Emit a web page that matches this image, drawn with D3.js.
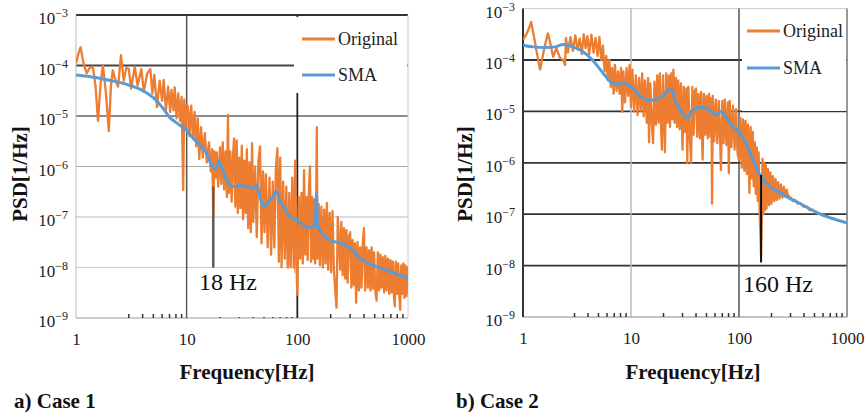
<!DOCTYPE html>
<html><head><meta charset="utf-8">
<script src="https://cdn.jsdelivr.net/npm/d3@7"></script>
<style>body{margin:0;background:#fff}svg{display:block}</style>
</head><body>
<svg id="c" width="865" height="412"></svg>
<script>
// ---------------- DATA ----------------
const xTickValues = [1, 10, 100, 1000];
const yTickExponents = [-3, -4, -5, -6, -7, -8, -9];
const minorTickValues = [3,4,5,6,7,8,9,20,30,40,50,60,70,80,90,200,300,400,500,600,700,800,900];
const legendLabels = ["Original", "SMA"];
const panelCaptions = ["a) Case 1", "b) Case 2"];
const xAxisTitle = "Frequency[Hz]";
const yAxisTitle = "PSD[1/Hz]";
const markerFreqs = [17.4, 160];
const markerLabels = ["18 Hz", "160 Hz"];
const markerRanges = [[4e-7, 1e-8], [5.8e-7, 1.15e-8]];

const case1Original = [
[1,1.1e-4],[1.05,1.7e-4],[1.1,2.3e-4],[1.17,1.1e-4],[1.25,7e-5],[1.33,9e-5],[1.42,9.5e-5],[1.5,4e-5],[1.58,8e-6],[1.67,4.5e-5],
[1.75,1e-4],[1.86,3e-5],[1.98,5e-6],[2.07,4e-5],[2.15,8e-5],[2.28,5e-5],[2.4,3.8e-5],[2.55,1.6e-4],[2.7,5e-5],[2.85,9e-5],
[3.0,8.5e-5],[3.15,3.5e-5],[3.4,9.5e-5],[3.6,4e-5],[3.9,8.5e-5],[4.1,3e-5],[4.4,7e-5],[4.7,8.5e-5],[4.9,2.8e-5],[5.1,6.5e-5],
[5.4,1.5e-5],[5.7,5e-5],[6.0,2e-5],[6.2,5.2e-5],[6.5,1.3e-5],[6.8,3.8e-5],[7.1,1.2e-5],[7.3,3.3e-5],[7.6,1.3e-5],[7.8,3.7e-5],
[8.1,9e-6],[8.4,2.8e-5],[8.7,8e-6],[9.0,2.4e-5],[9.3,3.4e-7],[9.5,2.1e-5],[9.8,6e-6],[10,1.7e-5],
[10.3,1.5e-5],[10.6,4e-6],[11,1.6e-5],[11.4,3.5e-6],[11.8,1.2e-5],[12.2,2.5e-6],[12.6,9e-6],[13.0,1.4e-6],[13.5,6e-6],[14.0,1.5e-6],
[14.6,4.6e-6],[15.2,1.2e-6],[15.9,3e-6],[16.5,8e-7],[17.0,2.2e-6],[17.4,1e-7],[17.8,2e-6],[18.3,6e-7],[18.7,1.9e-6],[19.3,4e-7],
[20,2.4e-6],[20.6,4.5e-7],[21.2,3e-6],[21.8,3.5e-7],[22.5,2e-6],[23.1,2.5e-7],[23.6,1.05e-5],[24.1,3e-7],
[24.8,2e-6],[25.5,2e-7],[26.3,1.8e-6],[26.8,3.6e-6],[27.5,1.6e-7],[28.3,3.3e-6],[29,1.2e-7],[29.8,1.5e-6],[30.6,1.5e-7],[31.5,2.6e-6],
[32.3,9e-8],[33.2,1.3e-6],[34.1,1.2e-7],[35,2.2e-6],[36,6e-8],[37,1.2e-6],[38,5e-8],[39,2.9e-6],[40,8e-8],[41.5,1e-6],
[43,4e-8],[44.5,1.3e-6],[46,2.5e-6],[47.5,3e-8],[49,8e-7],[50.5,5e-8],[52,7e-7],[54,2.5e-8],[56,6e-7],[58,1.8e-8],
[60,5e-7],[62,2.5e-8],[64,9e-7],[66,2.3e-6],[68,1.3e-8],[70,1.5e-6],[72,1e-8],[74.5,5e-7],[77,1.5e-8],[79.5,4e-7],
[82,7e-9],[84.5,3e-7],[87,1e-8],[90,6e-7],[93,8e-9],[95.5,1.3e-6],[98,1.2e-8],[100,2.9e-9],
[103,2.5e-7],[106,1.5e-8],[109,3e-7],[112,1.2e-8],[115,8.5e-7],[118,1.8e-8],[121,2.5e-7],[124,1.4e-8],[127,3e-7],[130,1e-6],
[133,1.3e-8],[136,2.5e-7],[139,1.5e-8],[142,2.2e-7],[145,1.2e-8],[148,2e-7],[150,6e-6],[152,1.5e-8],[156,1.8e-7],[160,1.1e-8],
[165,1.6e-7],[170,1e-8],[175,1.4e-7],[180,1.2e-8],[185,1.9e-7],[190,9e-9],[196,1.2e-7],[202,8e-9],[208,1.3e-7],[214,9e-9],
[220,3.5e-9],[226,1.6e-9],[232,1e-7],[238,3.5e-8],[244,9e-9],[250,8e-8],[257,7e-9],[264,6e-8],[271,6e-9],[278,5.5e-8],
[285,5e-9],[292,4e-8],[300,5e-8],[308,4e-9],[316,3.5e-8],[324,4.5e-9],[332,3e-8],[340,2e-9],[350,3.2e-8],[360,3.5e-9],
[370,2.5e-8],[380,4e-9],[390,3e-8],[400,6e-8],[410,3.5e-9],[422,2.5e-8],[434,4e-9],[446,2.2e-8],[458,3.5e-9],[470,2.5e-8],
[482,3.8e-9],[494,2e-8],[506,3.5e-9],[520,2.2e-9],[534,2e-8],[548,3.5e-9],[562,1.8e-8],[576,4e-9],[592,1.6e-8],[608,3.2e-9],
[624,1.7e-8],[640,3.5e-9],[658,1.5e-8],[676,3e-9],[694,1.4e-8],[712,3.2e-9],[730,1.3e-8],[748,2.5e-9],[760,1.7e-9],[775,1.3e-8],
[795,3e-9],[815,1.2e-8],[835,2.8e-9],[850,1.45e-9],[868,1.1e-8],[888,3e-9],[908,1.2e-8],[928,2.5e-9],[948,1.1e-8],[968,2.7e-9],
[985,1e-8],[1000,3e-9]
];

const case1Sma = [
[1,6.5e-5],[1.5,5.8e-5],[2,5.1e-5],[3,4.1e-5],[4,3.2e-5],[5,2.3e-5],[6,1.5e-5],[7,9.5e-6],[8.5,6.8e-6],[10,5.2e-6],
[11.5,3.6e-6],[13,2.7e-6],[15,1.9e-6],[17,1e-6],[18,9e-7],[19.5,1.25e-6],[21,9e-7],[24,4.5e-7],[27,4e-7],[30,4.2e-7],
[35,4e-7],[39,3.7e-7],[43,4.3e-7],[46,2.5e-7],[49,1.6e-7],[55,2e-7],[60,2.5e-7],[65,3.2e-7],[69,2.2e-7],[75,1.6e-7],
[86,1e-7],[100,8.7e-8],[122,6.3e-8],[138,6.3e-8],[145,8e-8],[149,3e-7],[152,7e-8],[160,5.5e-8],[196,3.5e-8],[277,2.8e-8],
[390,1.4e-8],[560,9.8e-9],[1000,6.2e-9]
];

const case2Original = [
[1,2.5e-4],[1.07,3.1e-4],[1.13,4e-4],[1.19,5.5e-4],[1.27,2.7e-4],[1.35,1.3e-4],[1.44,6.5e-5],[1.53,1.25e-4],[1.62,2.2e-4],[1.7,3.3e-4],
[1.8,2e-4],[1.9,1.15e-4],[2.04,1.7e-4],[2.2,1.1e-4],[2.35,1e-4],[2.45,8e-5],[2.5,2.7e-4],
[2.6,1.4e-4],[2.75,2.8e-4],[2.9,1.5e-4],[3.05,3e-4],[3.2,1.6e-4],[3.35,2.6e-4],[3.5,1.3e-4],[3.65,3.2e-4],[3.8,1.7e-4],[3.95,2.9e-4],
[4.1,1.3e-4],[4.3,3.1e-4],[4.5,1.4e-4],[4.7,2.7e-4],[4.9,1.2e-4],[5.1,2.8e-4],[5.3,1e-4],[5.5,1.9e-4],
[5.7,6e-5],[5.9,1.2e-4],[6.1,4e-5],[6.3,1e-4],[6.5,3e-5],[6.7,7e-5],[6.9,2.2e-5],[7.1,8e-5],[7.35,2.5e-5],[7.6,6e-5],
[7.85,2.2e-5],[8.1,7e-5],[8.3,9.8e-6],[8.5,6e-5],
[8.8,1.5e-5],[9.1,7e-5],[9.4,2e-5],[9.7,8e-5],[10,1.2e-5],[10.3,6.5e-5],[10.7,1e-5],[11.1,5e-5],[11.5,8.5e-6],[11.9,4.5e-5],
[12.3,1e-5],[12.7,5.5e-5],[13.1,8e-6],
[13.5,4e-5],[14,6e-6],[14.4,4.5e-5],[14.7,2.5e-6],[15.1,3.5e-5],[15.6,6e-6],[16,2.4e-6],[16.5,3.8e-5],[17,5.5e-6],[17.5,5e-5],
[18,6e-6],[18.5,5.5e-5],[19,5e-6],[19.3,1.8e-6],[19.8,5e-5],[20.3,6e-6],[20.6,1.6e-6],
[21.2,5.5e-5],[21.8,6e-6],[22.4,5e-5],[23,5e-6],[23.6,5.5e-5],[24.2,7e-6],[24.7,6.5e-5],[25.3,6e-6],[26,4.5e-5],[26.7,5e-6],
[27.4,4e-5],[28.2,4.5e-6],[29,3.5e-5],[30,1.8e-6],[30.8,3e-5],[31.7,4e-6],[32.5,2.8e-5],[33.2,1e-6],[34,3e-5],[35,3.5e-6],
[36,1e-6],[37,3e-5],
[38,3.5e-6],[39,2.5e-5],[40,2.8e-5],[41,3.2e-6],[42.2,2.2e-5],[43.4,3e-6],[44.6,2.4e-5],[46,1.15e-6],[47.3,2.2e-5],[48.6,3.5e-6],
[50,2e-5],[51.4,3e-6],[52.8,2.2e-5],[54.3,3.2e-6],[55.5,1.8e-5],[56.3,1.6e-7],[57.2,2e-5],
[59,2.6e-6],[61,1.7e-5],[63,2.4e-6],[65,1.6e-5],[67,2.5e-6],[68,7.2e-7],[70,1.6e-5],[72,2.4e-6],[74,1.7e-5],[76.5,2.2e-6],
[79,1.5e-5],[80.5,6.3e-7],[82,1.6e-5],[85,2e-6],[88,1.3e-5],[91,1.8e-6],[94,1.1e-5],[97,1.5e-6],[100,1.15e-6],
[103,7.5e-6],[106,8e-7],[109,7e-6],[112,7e-7],[115,6.5e-6],[118,6e-7],[121,5.5e-6],[125,2.6e-7],[128,5e-6],[131,5e-7],[134,4e-6],
[137,3.5e-7],[140,2.5e-6],[143,2.5e-7],[146,2e-6],[149,1.8e-7],[152,1.6e-6],[155,1.2e-7],[158,4e-8],[160,1.45e-8],[162,5e-8],
[165,1.2e-6],[168,1e-7],[171,1e-6],[174,1.2e-7],[177,9e-7],[180,1.3e-7],
[185,7.5e-7],[190,1.5e-7],[195,6.5e-7],[200,1.6e-7],[206,5.5e-7],[212,1.8e-7],[218,4.8e-7],[224,1.9e-7],[230,4.2e-7],[237,2e-7],
[244,3.8e-7],[252,2.1e-7],[260,3.4e-7],[268,2.2e-7],[276,3e-7],[285,2.3e-7],
[300,2.1e-7],[315,1.8e-7],[330,1.9e-7],[350,1.6e-7],[370,1.65e-7],[395,1.4e-7],[420,1.42e-7],[450,1.2e-7],[480,1.22e-7],[520,1.05e-7],
[560,1.04e-7],[600,9.3e-8],[650,9.1e-8],[700,8.4e-8],[750,8.3e-8],[810,7.6e-8],[870,7.4e-8],[930,7e-8],[1000,6.7e-8]
];

const case2Sma = [
[1,1.95e-4],[1.24,1.8e-4],[1.6,1.75e-4],[2,1.8e-4],[2.35,2e-4],[2.9,1.8e-4],[3.6,1.45e-4],[4.4,1e-4],[5.5,5.6e-5],[6.8,3.5e-5],
[7.8,3.4e-5],[8.4,3.6e-5],[10.4,2.8e-5],[12.1,2e-5],[15,1.65e-5],[18.5,1.8e-5],[21,2.3e-5],[23.5,2.8e-5],[26,1.5e-5],[28.5,1.1e-5],
[33,7.4e-6],[37.5,1.05e-5],[43,1.2e-5],[50,1.15e-5],[62,8.5e-6],[68,1e-5],[77,7.4e-6],[88,5e-6],[101,4e-6],[118,2.2e-6],
[135,1.15e-6],[156,5.8e-7],[180,4e-7],[240,2.6e-7],[370,1.6e-7],[560,1.02e-7],[1000,6.8e-8]
];

// ---------------- LAYOUT / STYLE ----------------
const ORANGE = "#ED7D31", BLUE = "#5B9BD5";
const FONT = "'Liberation Serif','Times New Roman',serif";

const panels = [
  { x0: 76, x1: 408, y0: 15, y1: 318, orig: case1Original, sma: case1Sma,
    hGrid: [["#333",2],["#444",1.8],["#666",1.5],["#aaa",1],["#bbb",1],["#ccc",1],["#999",1]],
    vGrid: [["#bbb",1],["#555",1.5],["#222",1.8],["#ccc",1]],
    legend: { x: 294, y: 17, w: 113, h: 76, lx0: 302, lx1: 335, ly: [39, 75], tx: 338, tdy: 6 },
    labelBox: true,
    markerLabelPos: [199, 290], markerLabelSize: 24, markerColor: "#555",
    yTitleX: 27, xTitleX: 247, captionX: 14 },
  { x0: 523, x1: 847, y0: 8.6, y1: 317, orig: case2Original, sma: case2Sma,
    hGrid: [["#ccc",1],["#333",1.8],["#333",1.8],["#333",1.8],["#333",1.8],["#333",1.8],["#888",1.2]],
    vGrid: [["#333",2],["#bbb",1.5],["#555",1.5],["#777",1.5]],
    legend: { x: 742, y: 10, w: 104, h: 101, lx0: 747, lx1: 780, ly: [31, 68], tx: 783, tdy: 6 },
    labelBox: false,
    markerLabelPos: [743, 292], markerLabelSize: 24, markerColor: "#111",
    yTitleX: 472, xTitleX: 693, captionX: 456 }
];

const svg = d3.select("#c");
svg.append("rect").attr("width", 865).attr("height", 412).attr("fill", "#fff");

panels.forEach((p, pi) => {
  const x = d3.scaleLog().domain([1, 1000]).range([p.x0, p.x1]);
  const y = d3.scaleLog().domain([1e-9, 1e-3]).range([p.y1, p.y0]);
  const g = svg.append("g");

  const clipId = "clip" + pi;
  svg.append("clipPath").attr("id", clipId).append("rect")
    .attr("x", p.x0).attr("y", p.y0 - 1).attr("width", p.x1 - p.x0).attr("height", p.y1 - p.y0 + 2);

  g.selectAll(".hg").data(yTickExponents).join("line")
    .attr("x1", p.x0).attr("x2", p.x1)
    .attr("y1", d => y(Math.pow(10, d))).attr("y2", d => y(Math.pow(10, d)))
    .attr("stroke", (d, i) => p.hGrid[i][0]).attr("stroke-width", (d, i) => p.hGrid[i][1]);

  g.selectAll(".vg").data(xTickValues).join("line")
    .attr("x1", d => x(d)).attr("x2", d => x(d))
    .attr("y1", p.y0).attr("y2", p.y1)
    .attr("stroke", (d, i) => p.vGrid[i][0]).attr("stroke-width", (d, i) => p.vGrid[i][1]);

  g.selectAll(".mt").data(minorTickValues).join("line")
    .attr("x1", d => x(d)).attr("x2", d => x(d))
    .attr("y1", p.y1).attr("y2", p.y1 - 4)
    .attr("stroke", "#333").attr("stroke-width", 1.5);

  const mf = markerFreqs[pi], mr = markerRanges[pi];
  const mline = svg.append("line")
    .attr("x1", x(mf)).attr("x2", x(mf)).attr("y1", y(mr[0])).attr("y2", y(mr[1]))
    .attr("stroke", p.markerColor).attr("stroke-width", 2);

  const line = d3.line().x(d => x(d[0])).y(d => y(d[1]));
  const dg = svg.append("g").attr("clip-path", `url(#${clipId})`);
  dg.append("path").datum(p.orig).attr("d", line)
    .attr("fill", "none").attr("stroke", ORANGE).attr("stroke-width", 2.3).attr("stroke-linejoin", "round");
  dg.append("path").datum(p.sma).attr("d", d3.line().x(d => x(d[0])).y(d => y(d[1])).curve(d3.curveMonotoneX))
    .attr("fill", "none").attr("stroke", BLUE).attr("stroke-width", 3).attr("stroke-linejoin", "round");

  if (pi === 1) mline.raise();

  if (p.labelBox) {
    svg.append("rect")
      .attr("x", x(10) + 1).attr("y", y(1e-8) + 1)
      .attr("width", x(100) - x(10) - 4).attr("height", y(1e-9) - y(1e-8) - 2)
      .attr("fill", "#fff");
    svg.append("line").attr("x1", x(mf)).attr("x2", x(mf)).attr("y1", y(mr[0])).attr("y2", y(mr[1]))
      .attr("stroke", p.markerColor).attr("stroke-width", 2);
  }
  svg.append("text").attr("x", p.markerLabelPos[0]).attr("y", p.markerLabelPos[1])
    .attr("font-family", FONT).attr("font-size", p.markerLabelSize).attr("fill", "#111")
    .text(markerLabels[pi]);

  const L = p.legend;
  svg.append("rect").attr("x", L.x).attr("y", L.y).attr("width", L.w).attr("height", L.h).attr("fill", "#fff");
  [ORANGE, BLUE].forEach((c, i) => {
    svg.append("line").attr("x1", L.lx0).attr("x2", L.lx1).attr("y1", L.ly[i]).attr("y2", L.ly[i])
      .attr("stroke", c).attr("stroke-width", 3);
    svg.append("text").attr("x", L.tx).attr("y", L.ly[i] + L.tdy)
      .attr("font-family", FONT).attr("font-size", 18).attr("fill", "#222")
      .text(legendLabels[i]);
  });

  const yl = svg.append("g");
  yTickExponents.forEach(e => {
    const t = yl.append("text")
      .attr("x", p.x0 - 8).attr("y", y(Math.pow(10, e)) + 9)
      .attr("text-anchor", "end").attr("font-family", FONT).attr("font-size", 17).attr("fill", "#222");
    t.append("tspan").text("10");
    t.append("tspan").attr("dy", -7).attr("font-size", 12).text("\u2212" + Math.abs(e));
  });

  const xa = svg.append("g").attr("transform", `translate(0,${p.y1 + 12})`)
    .call(d3.axisBottom(x).tickValues(xTickValues).tickFormat(d3.format("d")).tickSize(0));
  xa.select(".domain").remove();
  xa.selectAll("text").attr("font-family", FONT).attr("font-size", 17).attr("fill", "#222").attr("dy", "0.71em");

  svg.append("text").attr("x", p.xTitleX).attr("y", 379).attr("text-anchor", "middle")
    .attr("font-family", FONT).attr("font-size", 21).attr("font-weight", "bold").attr("fill", "#111")
    .text(xAxisTitle);
  svg.append("text").attr("transform", `translate(${p.yTitleX},174) rotate(-90)`).attr("text-anchor", "middle")
    .attr("font-family", FONT).attr("font-size", 21).attr("font-weight", "bold").attr("fill", "#111")
    .text(yAxisTitle);
  svg.append("text").attr("x", p.captionX).attr("y", 408)
    .attr("font-family", FONT).attr("font-size", 21).attr("font-weight", "bold").attr("fill", "#111")
    .text(panelCaptions[pi]);
});
</script>
</body></html>
